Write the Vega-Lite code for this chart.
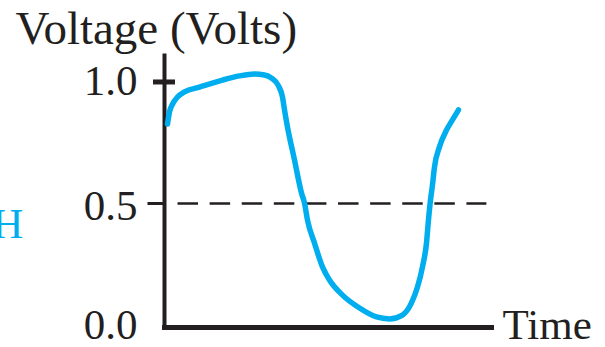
{
  "$schema": "https://vega.github.io/schema/vega-lite/v6.json",
  "width": 327,
  "height": 270,
  "autosize": {"type": "none"},
  "padding": {"left": 164, "top": 55, "right": 114, "bottom": 22},
  "background": "white",
  "config": {"view": {"stroke": null}, "font": "Liberation Serif"},
  "datasets": {
    "curve": [
      {"t": 1.06, "v": 0.827},
      {"t": 1.67, "v": 0.877},
      {"t": 2.58, "v": 0.909},
      {"t": 4.09, "v": 0.938},
      {"t": 6.21, "v": 0.959},
      {"t": 10.76, "v": 0.979},
      {"t": 17.73, "v": 1.008},
      {"t": 22.88, "v": 1.025},
      {"t": 27.42, "v": 1.033},
      {"t": 30.45, "v": 1.029},
      {"t": 32.58, "v": 1.016},
      {"t": 34.7, "v": 0.984},
      {"t": 35.91, "v": 0.938},
      {"t": 36.52, "v": 0.885},
      {"t": 37.42, "v": 0.815},
      {"t": 39.55, "v": 0.679},
      {"t": 41.67, "v": 0.543},
      {"t": 42.58, "v": 0.502},
      {"t": 43.48, "v": 0.432},
      {"t": 45.61, "v": 0.337},
      {"t": 48.03, "v": 0.239},
      {"t": 50.15, "v": 0.185},
      {"t": 54.09, "v": 0.123},
      {"t": 59.24, "v": 0.07},
      {"t": 64.39, "v": 0.033},
      {"t": 68.33, "v": 0.025},
      {"t": 72.27, "v": 0.041},
      {"t": 75.0, "v": 0.091},
      {"t": 76.82, "v": 0.156},
      {"t": 78.33, "v": 0.239},
      {"t": 79.55, "v": 0.337},
      {"t": 80.15, "v": 0.432},
      {"t": 80.76, "v": 0.514},
      {"t": 81.36, "v": 0.576},
      {"t": 81.97, "v": 0.65},
      {"t": 83.48, "v": 0.733},
      {"t": 85.61, "v": 0.802},
      {"t": 87.42, "v": 0.844},
      {"t": 89.24, "v": 0.885}
    ],
    "threshold": [{"t": 4.1, "t2": 97.7, "v": 0.5}],
    "axisTick": [{"t": 0, "v": 1.0}],
    "side": [{"t": -42.6, "v": 0.358, "label": "H"}]
  },
  "layer": [
    {
      "data": {"name": "threshold"},
      "mark": {"type": "rule", "strokeDash": [20.5, 11.6], "strokeWidth": 2.5, "color": "#231f20"},
      "encoding": {
        "x": {
          "field": "t", "type": "quantitative",
          "scale": {"domain": [0, 99.1], "nice": false, "zero": false},
          "axis": {
            "title": "Time", "titleAngle": 0, "titleAlign": "left", "titleBaseline": "alphabetic",
            "titleX": 338, "titleY": 11, "titleFont": "Liberation Serif", "titleFontSize": 43,
            "titleFontWeight": "normal", "titleColor": "#231f20",
            "ticks": false, "labels": false, "grid": false,
            "domainColor": "#231f20", "domainWidth": 5, "domainCap": "square", "offset": 2
          }
        },
        "x2": {"field": "t2"},
        "y": {
          "field": "v", "type": "quantitative",
          "scale": {"domain": [0, 1.111], "nice": false, "zero": false},
          "axis": {
            "title": "Voltage (Volts)", "titleAngle": 0, "titleAlign": "left", "titleBaseline": "alphabetic",
            "titleX": -149, "titleY": -12, "titleFont": "Liberation Serif", "titleFontSize": 47,
            "titleFontWeight": "normal", "titleColor": "#231f20",
            "values": [0, 0.5, 1], "format": ".1f", "grid": false,
            "labelFont": "Liberation Serif", "labelFontSize": 43, "labelColor": "#231f20", "labelPadding": 10,
            "labelOffset": {"condition": {"test": "datum.value === 0.5", "value": 3}, "value": 0},
            "tickSize": 17, "tickWidth": 3, "tickColor": "#231f20",
            "tickOpacity": {"condition": {"test": "datum.value === 0.5", "value": 1}, "value": 0},
            "domainColor": "#231f20", "domainWidth": 4, "domainCap": "square"
          }
        }
      }
    },
    {
      "data": {"name": "curve"},
      "mark": {"type": "line", "interpolate": "monotone", "color": "#00aeef", "strokeWidth": 5.5, "strokeCap": "round", "strokeJoin": "round"},
      "encoding": {
        "x": {"field": "t", "type": "quantitative"},
        "y": {"field": "v", "type": "quantitative"}
      }
    },
    {
      "data": {"name": "axisTick"},
      "mark": {"type": "tick", "orient": "horizontal", "size": 22, "thickness": 5, "color": "#231f20", "opacity": 1},
      "encoding": {
        "x": {"field": "t", "type": "quantitative"},
        "y": {"field": "v", "type": "quantitative"}
      }
    },
    {
      "data": {"name": "side"},
      "mark": {"type": "text", "align": "right", "baseline": "alphabetic", "font": "Liberation Serif", "fontSize": 43, "color": "#00aeef"},
      "encoding": {
        "x": {"field": "t", "type": "quantitative"},
        "y": {"field": "v", "type": "quantitative"},
        "text": {"field": "label"}
      }
    }
  ]
}
